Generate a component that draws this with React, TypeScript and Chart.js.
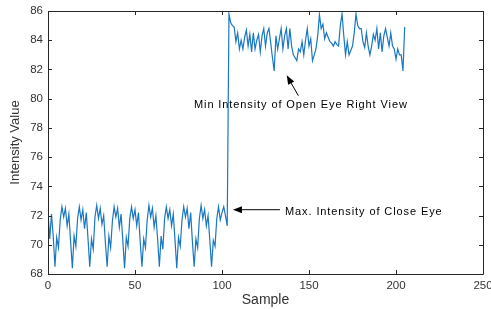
import React, { useEffect, useRef } from "react";
import { Chart, registerables } from "chart.js";

Chart.register(...registerables);

// Samples 0..103 (closed eye)
const closeEye: number[] = [
  72.2, 70.4, 72.1, 70.6, 68.5, 70.5, 69.8, 71.7, 72.6, 71.9,
  72.5, 71.3, 72.1, 70.2, 68.4, 70.6, 69.9, 71.8, 72.6, 71.7,
  72.4, 71.1, 72.2, 70.4, 68.5, 70.4, 69.7, 71.9, 72.7, 71.8,
  72.5, 71.4, 72.0, 70.1, 68.5, 70.6, 69.8, 71.6, 72.6, 71.9,
  72.5, 71.2, 72.1, 70.3, 68.4, 70.5, 69.9, 71.8, 72.6, 71.8,
  72.4, 71.3, 72.2, 70.2, 68.5, 70.4, 69.8, 71.7, 72.7, 71.9,
  72.5, 71.2, 72.0, 70.4, 68.5, 70.6, 69.7, 71.8, 72.6, 71.8,
  72.4, 71.3, 72.1, 70.3, 68.4, 70.5, 69.9, 71.7, 72.6, 71.9,
  72.5, 71.1, 72.2, 70.2, 68.5, 70.4, 69.8, 71.8, 72.7, 71.8,
  72.4, 71.3, 72.0, 70.3, 68.5, 70.3, 69.9, 71.8, 72.6, 71.7,
  72.2, 72.6, 72.0, 71.3,
];

// Samples 104..205 (open eye, right view)
const openEye: number[] = [
  85.8, 85.2, 85.0, 84.9, 83.9, 84.5, 83.4, 84.0, 83.4, 84.2,
  84.7, 83.6, 84.4, 83.2, 84.5, 83.4, 84.0, 84.4, 83.2, 84.3,
  84.8, 83.6, 84.5, 84.8, 83.8, 82.8, 81.9, 84.3, 83.4, 84.1,
  84.8, 83.4, 84.3, 84.8, 83.4, 84.8, 83.6, 83.0, 82.8, 82.6,
  83.4, 83.2, 83.9, 83.0, 84.0, 84.8, 83.6, 84.1, 82.6, 83.0,
  83.4, 84.3, 85.75, 84.8, 85.1, 84.1, 84.5, 84.2, 83.9, 83.8,
  83.6, 83.9, 83.7, 83.6, 85.0, 85.8, 84.3, 83.0, 83.9, 83.0,
  83.3, 83.6, 84.5, 85.8, 85.0, 84.8, 84.8, 83.9, 83.5, 84.5,
  83.6, 83.0, 83.6, 84.4, 84.0, 84.8, 83.4, 84.5, 83.2, 84.3,
  84.8, 84.2, 83.6, 84.5, 83.6, 83.4, 82.7, 83.4, 83.0, 83.0,
  81.9, 84.9,
];

const xTicks: number[] = [0, 50, 100, 150, 200, 250];
const yTicks: number[] = [68, 70, 72, 74, 76, 78, 80, 82, 84, 86];

const xTitle = "Sample";
const yTitle = "Intensity Value";

const notes = [
  { text: "Min Intensity of Open Eye Right View", tx: 83.9, ty: 79.6, fx: 143.9, fy: 80.2, hx: 137.2, hy: 81.6 },
  { text: "Max. Intensity of Close Eye", tx: 136.2, ty: 72.25, fx: 133.3, fy: 72.4, hx: 106.3, hy: 72.4 },
];

const FONT = "'Liberation Sans', Arial, Helvetica, sans-serif";
const AXIS_COLOR = "#262626";
const LABEL_COLOR = "#333333";

const boxPlugin = {
  id: "matlabBox",
  afterDraw(chart: any) {
    const { ctx, chartArea } = chart;
    const xs = chart.scales.x;
    const ys = chart.scales.y;
    const { left, right, top, bottom } = chartArea;
    ctx.save();
    ctx.strokeStyle = AXIS_COLOR;
    ctx.lineWidth = 1;
    ctx.beginPath();
    ctx.rect(Math.round(left) + 0.5, Math.round(top) + 0.5, Math.round(right - left), Math.round(bottom - top));
    ctx.stroke();
    const tl = 4;
    ctx.beginPath();
    xTicks.forEach((v) => {
      const px = Math.round(xs.getPixelForValue(v)) + 0.5;
      ctx.moveTo(px, bottom);
      ctx.lineTo(px, bottom - tl);
      ctx.moveTo(px, top);
      ctx.lineTo(px, top + tl);
    });
    yTicks.forEach((v) => {
      const py = Math.round(ys.getPixelForValue(v)) + 0.5;
      ctx.moveTo(left, py);
      ctx.lineTo(left + tl, py);
      ctx.moveTo(right, py);
      ctx.lineTo(right - tl, py);
    });
    ctx.stroke();

    // annotations
    ctx.fillStyle = "#000";
    ctx.strokeStyle = "#000";
    ctx.font = `11px ${FONT}`;
    (ctx as any).letterSpacing = "0.9px";
    ctx.textAlign = "left";
    ctx.textBaseline = "middle";
    notes.forEach((n) => {
      ctx.fillText(n.text, xs.getPixelForValue(n.tx), ys.getPixelForValue(n.ty));
      const fx = xs.getPixelForValue(n.fx);
      const fy = ys.getPixelForValue(n.fy);
      const hx = xs.getPixelForValue(n.hx);
      const hy = ys.getPixelForValue(n.hy);
      const ang = Math.atan2(hy - fy, hx - fx);
      const hl = 9;
      const hw = 3.5;
      const bx = hx - hl * Math.cos(ang);
      const by = hy - hl * Math.sin(ang);
      ctx.beginPath();
      ctx.lineWidth = 1;
      ctx.moveTo(fx, fy);
      ctx.lineTo(bx, by);
      ctx.stroke();
      ctx.beginPath();
      ctx.moveTo(hx, hy);
      ctx.lineTo(bx + hw * Math.sin(ang), by - hw * Math.cos(ang));
      ctx.lineTo(bx - hw * Math.sin(ang), by + hw * Math.cos(ang));
      ctx.closePath();
      ctx.fill();
    });
    (ctx as any).letterSpacing = "0px";
    ctx.restore();
  },
};

export default function App() {
  const ref = useRef<HTMLCanvasElement | null>(null);

  useEffect(() => {
    if (!ref.current) return;
    const values = [...closeEye, ...openEye];
    const points = values.map((v, i) => ({ x: i, y: v }));
    const chart = new Chart(ref.current, {
      type: "line",
      data: {
        datasets: [
          {
            data: points,
            borderColor: "#1a78c2",
            borderWidth: 1.2,
            pointRadius: 0,
            tension: 0,
            fill: false,
          },
        ],
      },
      options: {
        animation: false,
        responsive: false,
        maintainAspectRatio: false,
        layout: { padding: { left: 0, right: 8, top: 11, bottom: 0 } },
        plugins: { legend: { display: false }, tooltip: { enabled: false } },
        scales: {
          x: {
            type: "linear",
            min: 0,
            max: 250,
            afterBuildTicks: (s: any) => {
              s.ticks = xTicks.map((v) => ({ value: v }));
            },
            afterFit: (s: any) => {
              s.height = 35;
              s.paddingLeft = 0;
              s.paddingRight = 0;
            },
            grid: { display: false, drawTicks: false },
            border: { display: false },
            ticks: {
              padding: 5,
              maxRotation: 0,
              autoSkip: false,
              color: LABEL_COLOR,
              font: { family: FONT, size: 11.5 },
            },
            title: {
              display: true,
              text: xTitle,
              color: LABEL_COLOR,
              padding: { top: 0, bottom: 0 },
              font: { family: FONT, size: 14 },
            },
          },
          y: {
            type: "linear",
            min: 68,
            max: 86,
            afterBuildTicks: (s: any) => {
              s.ticks = yTicks.map((v) => ({ value: v }));
            },
            afterFit: (s: any) => {
              s.width = 48;
              s.paddingTop = 0;
              s.paddingBottom = 0;
            },
            grid: { display: false, drawTicks: false },
            border: { display: false },
            ticks: {
              padding: 5,
              autoSkip: false,
              color: LABEL_COLOR,
              font: { family: FONT, size: 11.5 },
            },
            title: {
              display: true,
              text: yTitle,
              color: LABEL_COLOR,
              padding: { top: 8, bottom: 0 },
              font: { family: FONT, size: 13 },
            },
          },
        },
      },
      plugins: [boxPlugin],
    });
    return () => chart.destroy();
  }, []);

  return (
    <div style={{ position: "fixed", left: 0, top: 0, width: 491, height: 309, background: "#fff" }}>
      <canvas ref={ref} width={491} height={309} style={{ width: 491, height: 309, display: "block" }} />
    </div>
  );
}
